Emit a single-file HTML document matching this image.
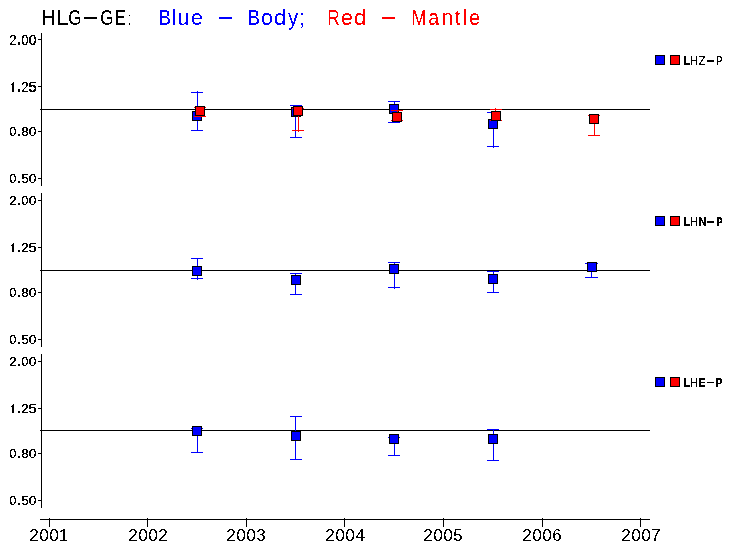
<!DOCTYPE html>
<html><head><meta charset="utf-8"><style>
html,body{margin:0;padding:0;background:#fff;}
svg{display:block;will-change:transform;}
</style></head><body>
<svg width="733" height="551" viewBox="0 0 733 551">
<rect width="733" height="551" fill="#fff"/>
<g shape-rendering="crispEdges">
<rect x="41" y="33" width="1" height="153" fill="#000"/>
<rect x="38" y="39" width="3" height="1" fill="#000"/>
<rect x="18" y="42" width="2" height="3" fill="#000"/>
<rect x="38" y="86" width="3" height="1" fill="#000"/>
<rect x="12" y="83" width="2" height="9" fill="#000"/>
<rect x="13" y="82" width="1" height="1" fill="#000"/>
<rect x="11" y="84" width="1" height="1" fill="#000"/>
<rect x="18" y="89" width="2" height="3" fill="#000"/>
<rect x="38" y="131" width="3" height="1" fill="#000"/>
<rect x="18" y="134" width="2" height="2" fill="#000"/>
<rect x="38" y="178" width="3" height="1" fill="#000"/>
<rect x="18" y="181" width="2" height="2" fill="#000"/>
<rect x="40" y="109" width="610" height="1" fill="#000"/>
<rect x="655" y="55" width="10" height="10" fill="#000"/>
<rect x="656" y="56" width="8" height="8" fill="#0000ff"/>
<rect x="670" y="55" width="10" height="10" fill="#000"/>
<rect x="671" y="56" width="8" height="8" fill="#ff0000"/>
<rect x="41" y="193" width="1" height="154" fill="#000"/>
<rect x="38" y="200" width="3" height="1" fill="#000"/>
<rect x="18" y="203" width="2" height="2" fill="#000"/>
<rect x="38" y="247" width="3" height="1" fill="#000"/>
<rect x="12" y="244" width="2" height="8" fill="#000"/>
<rect x="13" y="243" width="1" height="1" fill="#000"/>
<rect x="11" y="245" width="1" height="1" fill="#000"/>
<rect x="18" y="250" width="2" height="2" fill="#000"/>
<rect x="38" y="292" width="3" height="1" fill="#000"/>
<rect x="18" y="295" width="2" height="2" fill="#000"/>
<rect x="38" y="339" width="3" height="1" fill="#000"/>
<rect x="18" y="342" width="2" height="2" fill="#000"/>
<rect x="40" y="270" width="610" height="1" fill="#000"/>
<rect x="655" y="216" width="10" height="10" fill="#000"/>
<rect x="656" y="217" width="8" height="8" fill="#0000ff"/>
<rect x="670" y="216" width="10" height="10" fill="#000"/>
<rect x="671" y="217" width="8" height="8" fill="#ff0000"/>
<rect x="41" y="354" width="1" height="154" fill="#000"/>
<rect x="38" y="361" width="3" height="1" fill="#000"/>
<rect x="18" y="364" width="2" height="2" fill="#000"/>
<rect x="38" y="408" width="3" height="1" fill="#000"/>
<rect x="12" y="405" width="2" height="8" fill="#000"/>
<rect x="13" y="404" width="1" height="1" fill="#000"/>
<rect x="11" y="406" width="1" height="1" fill="#000"/>
<rect x="18" y="411" width="2" height="2" fill="#000"/>
<rect x="38" y="453" width="3" height="1" fill="#000"/>
<rect x="18" y="456" width="2" height="2" fill="#000"/>
<rect x="38" y="500" width="3" height="1" fill="#000"/>
<rect x="18" y="503" width="2" height="2" fill="#000"/>
<rect x="40" y="430" width="610" height="1" fill="#000"/>
<rect x="655" y="377" width="10" height="10" fill="#000"/>
<rect x="656" y="378" width="8" height="8" fill="#0000ff"/>
<rect x="670" y="377" width="10" height="10" fill="#000"/>
<rect x="671" y="378" width="8" height="8" fill="#ff0000"/>
<rect x="707" y="60" width="7" height="2" fill="#000"/>
<rect x="707" y="221" width="7" height="2" fill="#000"/>
<rect x="707" y="382" width="7" height="1" fill="#000"/>
<rect x="40" y="519" width="610" height="1" fill="#000"/>
<rect x="49" y="518" width="1" height="9" fill="#000"/>
<rect x="147" y="518" width="1" height="9" fill="#000"/>
<rect x="246" y="518" width="1" height="9" fill="#000"/>
<rect x="344" y="518" width="1" height="9" fill="#000"/>
<rect x="443" y="518" width="1" height="9" fill="#000"/>
<rect x="542" y="518" width="1" height="9" fill="#000"/>
<rect x="640" y="518" width="1" height="9" fill="#000"/>
<rect x="129" y="15" width="1" height="1" fill="#000"/>
<rect x="129" y="23" width="1" height="2" fill="#000"/>
<rect x="84" y="17" width="13" height="2" fill="#000"/>
<rect x="219" y="17" width="13" height="2" fill="#0000ff"/>
<rect x="382" y="17" width="13" height="2" fill="#ff0000"/>
<rect x="197" y="91" width="1" height="40" fill="#0000ff"/>
<rect x="191" y="92" width="12" height="1" fill="#0000ff"/>
<rect x="191" y="130" width="12" height="1" fill="#0000ff"/>
<rect x="192" y="111" width="10" height="10" fill="#000"/>
<rect x="193" y="112" width="8" height="8" fill="#0000ff"/>
<rect x="295" y="105" width="1" height="33" fill="#0000ff"/>
<rect x="290" y="105" width="12" height="1" fill="#0000ff"/>
<rect x="290" y="137" width="12" height="1" fill="#0000ff"/>
<rect x="291" y="107" width="10" height="10" fill="#000"/>
<rect x="292" y="108" width="8" height="8" fill="#0000ff"/>
<rect x="394" y="101" width="1" height="22" fill="#0000ff"/>
<rect x="388" y="101" width="12" height="1" fill="#0000ff"/>
<rect x="388" y="122" width="12" height="1" fill="#0000ff"/>
<rect x="389" y="104" width="10" height="10" fill="#000"/>
<rect x="390" y="105" width="8" height="8" fill="#0000ff"/>
<rect x="493" y="112" width="1" height="36" fill="#0000ff"/>
<rect x="487" y="112" width="12" height="1" fill="#0000ff"/>
<rect x="487" y="146" width="12" height="1" fill="#0000ff"/>
<rect x="488" y="119" width="10" height="10" fill="#000"/>
<rect x="489" y="120" width="8" height="8" fill="#0000ff"/>
<rect x="197" y="258" width="1" height="22" fill="#0000ff"/>
<rect x="191" y="258" width="12" height="1" fill="#0000ff"/>
<rect x="191" y="278" width="12" height="1" fill="#0000ff"/>
<rect x="192" y="266" width="10" height="10" fill="#000"/>
<rect x="193" y="267" width="8" height="8" fill="#0000ff"/>
<rect x="295" y="273" width="1" height="22" fill="#0000ff"/>
<rect x="290" y="273" width="12" height="1" fill="#0000ff"/>
<rect x="290" y="294" width="12" height="1" fill="#0000ff"/>
<rect x="291" y="275" width="10" height="10" fill="#000"/>
<rect x="292" y="276" width="8" height="8" fill="#0000ff"/>
<rect x="394" y="262" width="1" height="27" fill="#0000ff"/>
<rect x="388" y="262" width="12" height="1" fill="#0000ff"/>
<rect x="388" y="287" width="12" height="1" fill="#0000ff"/>
<rect x="389" y="264" width="10" height="10" fill="#000"/>
<rect x="390" y="265" width="8" height="8" fill="#0000ff"/>
<rect x="493" y="271" width="1" height="22" fill="#0000ff"/>
<rect x="487" y="271" width="12" height="1" fill="#0000ff"/>
<rect x="487" y="292" width="12" height="1" fill="#0000ff"/>
<rect x="488" y="274" width="10" height="10" fill="#000"/>
<rect x="489" y="275" width="8" height="8" fill="#0000ff"/>
<rect x="591" y="263" width="1" height="15" fill="#0000ff"/>
<rect x="585" y="263" width="13" height="1" fill="#0000ff"/>
<rect x="585" y="277" width="13" height="1" fill="#0000ff"/>
<rect x="587" y="262" width="10" height="10" fill="#000"/>
<rect x="588" y="263" width="8" height="8" fill="#0000ff"/>
<rect x="197" y="428" width="1" height="25" fill="#0000ff"/>
<rect x="191" y="428" width="12" height="1" fill="#0000ff"/>
<rect x="191" y="452" width="12" height="1" fill="#0000ff"/>
<rect x="192" y="426" width="10" height="10" fill="#000"/>
<rect x="193" y="427" width="8" height="8" fill="#0000ff"/>
<rect x="295" y="416" width="1" height="44" fill="#0000ff"/>
<rect x="290" y="416" width="12" height="1" fill="#0000ff"/>
<rect x="290" y="459" width="12" height="1" fill="#0000ff"/>
<rect x="291" y="431" width="10" height="10" fill="#000"/>
<rect x="292" y="432" width="8" height="8" fill="#0000ff"/>
<rect x="394" y="437" width="1" height="19" fill="#0000ff"/>
<rect x="388" y="437" width="12" height="1" fill="#0000ff"/>
<rect x="388" y="455" width="12" height="1" fill="#0000ff"/>
<rect x="389" y="434" width="10" height="10" fill="#000"/>
<rect x="390" y="435" width="8" height="8" fill="#0000ff"/>
<rect x="493" y="429" width="1" height="32" fill="#0000ff"/>
<rect x="487" y="429" width="12" height="1" fill="#0000ff"/>
<rect x="487" y="460" width="12" height="1" fill="#0000ff"/>
<rect x="488" y="434" width="10" height="10" fill="#000"/>
<rect x="489" y="435" width="8" height="8" fill="#0000ff"/>
<rect x="200" y="107" width="1" height="10" fill="#ff0000"/>
<rect x="194" y="107" width="12" height="1" fill="#ff0000"/>
<rect x="194" y="116" width="12" height="1" fill="#ff0000"/>
<rect x="195" y="106" width="10" height="10" fill="#000"/>
<rect x="196" y="107" width="8" height="8" fill="#ff0000"/>
<rect x="298" y="108" width="1" height="24" fill="#ff0000"/>
<rect x="292" y="108" width="12" height="1" fill="#ff0000"/>
<rect x="292" y="130" width="12" height="1" fill="#ff0000"/>
<rect x="293" y="106" width="10" height="10" fill="#000"/>
<rect x="294" y="107" width="8" height="8" fill="#ff0000"/>
<rect x="397" y="110" width="1" height="11" fill="#ff0000"/>
<rect x="391" y="110" width="12" height="1" fill="#ff0000"/>
<rect x="391" y="120" width="12" height="1" fill="#ff0000"/>
<rect x="392" y="112" width="10" height="10" fill="#000"/>
<rect x="393" y="113" width="8" height="8" fill="#ff0000"/>
<rect x="495" y="108" width="1" height="13" fill="#ff0000"/>
<rect x="490" y="109" width="12" height="1" fill="#ff0000"/>
<rect x="490" y="120" width="12" height="1" fill="#ff0000"/>
<rect x="491" y="111" width="10" height="10" fill="#000"/>
<rect x="492" y="112" width="8" height="8" fill="#ff0000"/>
<rect x="594" y="115" width="1" height="21" fill="#ff0000"/>
<rect x="588" y="115" width="12" height="1" fill="#ff0000"/>
<rect x="588" y="135" width="12" height="1" fill="#ff0000"/>
<rect x="589" y="114" width="10" height="10" fill="#000"/>
<rect x="590" y="115" width="8" height="8" fill="#ff0000"/>
</g>
<defs><filter id="c33" x="0" y="0" width="733" height="551" filterUnits="userSpaceOnUse" color-interpolation-filters="sRGB"><feComponentTransfer><feFuncA type="discrete" tableValues="0 1 1"/></feComponentTransfer></filter>
<filter id="c50" x="0" y="0" width="733" height="551" filterUnits="userSpaceOnUse" color-interpolation-filters="sRGB"><feComponentTransfer><feFuncA type="discrete" tableValues="0 0 1 1"/></feComponentTransfer></filter></defs>
<g filter="url(#c33)">
<text transform="translate(9.34,44.8) scale(1.013,1.058)" font-family="Liberation Sans" font-weight="normal" font-size="13.0" fill="#000">2</text>
<text transform="translate(21.51,44.8) scale(0.966,1.058)" font-family="Liberation Sans" font-weight="normal" font-size="13.0" fill="#000">0</text>
<text transform="translate(28.43,44.8) scale(1.126,1.058)" font-family="Liberation Sans" font-weight="normal" font-size="13.0" fill="#000">0</text>
<text transform="translate(21.34,91.8) scale(1.013,1.058)" font-family="Liberation Sans" font-weight="normal" font-size="13.0" fill="#000">2</text>
<text transform="translate(28.41,91.8) scale(1.136,1.058)" font-family="Liberation Sans" font-weight="normal" font-size="13.0" fill="#000">5</text>
<text transform="translate(9.51,135.8) scale(0.966,0.947)" font-family="Liberation Sans" font-weight="normal" font-size="13.0" fill="#000">0</text>
<text transform="translate(21.44,135.8) scale(0.984,0.947)" font-family="Liberation Sans" font-weight="normal" font-size="13.0" fill="#000">8</text>
<text transform="translate(28.43,135.8) scale(1.126,0.947)" font-family="Liberation Sans" font-weight="normal" font-size="13.0" fill="#000">0</text>
<text transform="translate(9.51,182.8) scale(0.966,0.947)" font-family="Liberation Sans" font-weight="normal" font-size="13.0" fill="#000">0</text>
<text transform="translate(21.49,182.8) scale(0.973,0.947)" font-family="Liberation Sans" font-weight="normal" font-size="13.0" fill="#000">5</text>
<text transform="translate(28.43,182.8) scale(1.126,0.947)" font-family="Liberation Sans" font-weight="normal" font-size="13.0" fill="#000">0</text>
<text transform="translate(9.34,204.8) scale(1.013,0.947)" font-family="Liberation Sans" font-weight="normal" font-size="13.0" fill="#000">2</text>
<text transform="translate(21.51,204.8) scale(0.966,0.947)" font-family="Liberation Sans" font-weight="normal" font-size="13.0" fill="#000">0</text>
<text transform="translate(28.43,204.8) scale(1.126,0.947)" font-family="Liberation Sans" font-weight="normal" font-size="13.0" fill="#000">0</text>
<text transform="translate(21.34,251.8) scale(1.013,0.947)" font-family="Liberation Sans" font-weight="normal" font-size="13.0" fill="#000">2</text>
<text transform="translate(28.41,251.8) scale(1.136,0.947)" font-family="Liberation Sans" font-weight="normal" font-size="13.0" fill="#000">5</text>
<text transform="translate(9.51,296.8) scale(0.966,0.947)" font-family="Liberation Sans" font-weight="normal" font-size="13.0" fill="#000">0</text>
<text transform="translate(21.44,296.8) scale(0.984,0.947)" font-family="Liberation Sans" font-weight="normal" font-size="13.0" fill="#000">8</text>
<text transform="translate(28.43,296.8) scale(1.126,0.947)" font-family="Liberation Sans" font-weight="normal" font-size="13.0" fill="#000">0</text>
<text transform="translate(9.51,343.8) scale(0.966,0.947)" font-family="Liberation Sans" font-weight="normal" font-size="13.0" fill="#000">0</text>
<text transform="translate(21.49,343.8) scale(0.973,0.947)" font-family="Liberation Sans" font-weight="normal" font-size="13.0" fill="#000">5</text>
<text transform="translate(28.43,343.8) scale(1.126,0.947)" font-family="Liberation Sans" font-weight="normal" font-size="13.0" fill="#000">0</text>
<text transform="translate(9.34,365.8) scale(1.013,0.947)" font-family="Liberation Sans" font-weight="normal" font-size="13.0" fill="#000">2</text>
<text transform="translate(21.51,365.8) scale(0.966,0.947)" font-family="Liberation Sans" font-weight="normal" font-size="13.0" fill="#000">0</text>
<text transform="translate(28.43,365.8) scale(1.126,0.947)" font-family="Liberation Sans" font-weight="normal" font-size="13.0" fill="#000">0</text>
<text transform="translate(21.34,412.8) scale(1.013,0.947)" font-family="Liberation Sans" font-weight="normal" font-size="13.0" fill="#000">2</text>
<text transform="translate(28.41,412.8) scale(1.136,0.947)" font-family="Liberation Sans" font-weight="normal" font-size="13.0" fill="#000">5</text>
<text transform="translate(9.51,457.8) scale(0.966,0.947)" font-family="Liberation Sans" font-weight="normal" font-size="13.0" fill="#000">0</text>
<text transform="translate(21.44,457.8) scale(0.984,0.947)" font-family="Liberation Sans" font-weight="normal" font-size="13.0" fill="#000">8</text>
<text transform="translate(28.43,457.8) scale(1.126,0.947)" font-family="Liberation Sans" font-weight="normal" font-size="13.0" fill="#000">0</text>
<text transform="translate(9.51,504.8) scale(0.966,0.947)" font-family="Liberation Sans" font-weight="normal" font-size="13.0" fill="#000">0</text>
<text transform="translate(21.49,504.8) scale(0.973,0.947)" font-family="Liberation Sans" font-weight="normal" font-size="13.0" fill="#000">5</text>
<text transform="translate(28.43,504.8) scale(1.126,0.947)" font-family="Liberation Sans" font-weight="normal" font-size="13.0" fill="#000">0</text>
<text transform="translate(683.22,65) scale(0.974,1.090)" font-family="Liberation Sans" font-weight="bold" font-size="12.0" fill="#000">L</text>
<text transform="translate(690.12,65) scale(0.895,1.090)" font-family="Liberation Sans" font-weight="normal" font-size="12.0" fill="#000">H</text>
<text transform="translate(698.65,65) scale(0.913,1.090)" font-family="Liberation Sans" font-weight="normal" font-size="12.0" fill="#000">Z</text>
<text transform="translate(716.23,65) scale(0.783,1.090)" font-family="Liberation Sans" font-weight="normal" font-size="12.0" fill="#000">P</text>
<text transform="translate(683.22,226) scale(0.974,1.090)" font-family="Liberation Sans" font-weight="bold" font-size="12.0" fill="#000">L</text>
<text transform="translate(690.12,226) scale(0.895,1.090)" font-family="Liberation Sans" font-weight="normal" font-size="12.0" fill="#000">H</text>
<text transform="translate(698.20,226) scale(0.992,1.090)" font-family="Liberation Sans" font-weight="bold" font-size="12.0" fill="#000">N</text>
<text transform="translate(716.41,226) scale(0.736,1.090)" font-family="Liberation Sans" font-weight="bold" font-size="12.0" fill="#000">P</text>
<text transform="translate(683.22,387) scale(0.974,1.090)" font-family="Liberation Sans" font-weight="bold" font-size="12.0" fill="#000">L</text>
<text transform="translate(690.12,387) scale(0.895,1.090)" font-family="Liberation Sans" font-weight="normal" font-size="12.0" fill="#000">H</text>
<text transform="translate(698.28,387) scale(0.891,1.090)" font-family="Liberation Sans" font-weight="bold" font-size="12.0" fill="#000">E</text>
<text transform="translate(715.29,387) scale(0.884,1.090)" font-family="Liberation Sans" font-weight="bold" font-size="12.0" fill="#000">P</text>
</g>
<g filter="url(#c50)">
<text x="29.13" y="541" font-family="Liberation Sans" font-size="17.2">2</text>
<text x="39.33" y="541" font-family="Liberation Sans" font-size="17.2">0</text>
<text x="49.33" y="541" font-family="Liberation Sans" font-size="17.2">0</text>
<text x="58.69" y="541" font-family="Liberation Sans" font-size="17.2">1</text>
<text x="128.13" y="541" font-family="Liberation Sans" font-size="17.2">2</text>
<text x="138.33" y="541" font-family="Liberation Sans" font-size="17.2">0</text>
<text x="148.33" y="541" font-family="Liberation Sans" font-size="17.2">0</text>
<text x="158.13" y="541" font-family="Liberation Sans" font-size="17.2">2</text>
<text x="226.13" y="541" font-family="Liberation Sans" font-size="17.2">2</text>
<text x="236.33" y="541" font-family="Liberation Sans" font-size="17.2">0</text>
<text x="246.33" y="541" font-family="Liberation Sans" font-size="17.2">0</text>
<text x="256.34" y="541" font-family="Liberation Sans" font-size="17.2">3</text>
<text x="325.13" y="541" font-family="Liberation Sans" font-size="17.2">2</text>
<text x="335.33" y="541" font-family="Liberation Sans" font-size="17.2">0</text>
<text x="345.33" y="541" font-family="Liberation Sans" font-size="17.2">0</text>
<text x="355.61" y="541" font-family="Liberation Sans" font-size="17.2">4</text>
<text x="423.13" y="541" font-family="Liberation Sans" font-size="17.2">2</text>
<text x="433.33" y="541" font-family="Liberation Sans" font-size="17.2">0</text>
<text x="443.33" y="541" font-family="Liberation Sans" font-size="17.2">0</text>
<text x="453.31" y="541" font-family="Liberation Sans" font-size="17.2">5</text>
<text x="522.13" y="541" font-family="Liberation Sans" font-size="17.2">2</text>
<text x="532.33" y="541" font-family="Liberation Sans" font-size="17.2">0</text>
<text x="542.33" y="541" font-family="Liberation Sans" font-size="17.2">0</text>
<text x="552.13" y="541" font-family="Liberation Sans" font-size="17.2">6</text>
<text x="621.13" y="541" font-family="Liberation Sans" font-size="17.2">2</text>
<text x="631.33" y="541" font-family="Liberation Sans" font-size="17.2">0</text>
<text x="641.33" y="541" font-family="Liberation Sans" font-size="17.2">0</text>
<text x="651.12" y="541" font-family="Liberation Sans" font-size="17.2">7</text>
<text transform="translate(41.38,25) scale(1.036,1.148)" font-family="Liberation Sans" font-weight="normal" font-size="19" fill="#000">H</text>
<text transform="translate(56.14,25) scale(1.194,1.148)" font-family="Liberation Sans" font-weight="normal" font-size="19" fill="#000">L</text>
<text transform="translate(68.15,25) scale(0.887,1.148)" font-family="Liberation Sans" font-weight="normal" font-size="19" fill="#000">G</text>
<text transform="translate(100.15,25) scale(0.887,1.148)" font-family="Liberation Sans" font-weight="normal" font-size="19" fill="#000">G</text>
<text transform="translate(114.64,25) scale(0.874,1.148)" font-family="Liberation Sans" font-weight="normal" font-size="19" fill="#000">E</text>
<text transform="translate(158.46,25) scale(0.989,1.148)" font-family="Liberation Sans" font-weight="normal" font-size="19" fill="#0000ff">B</text>
<text transform="translate(171.88,25) scale(1.000,1.148)" font-family="Liberation Sans" font-weight="normal" font-size="19" fill="#0000ff">l</text>
<text transform="translate(177.62,25) scale(1.115,1.148)" font-family="Liberation Sans" font-weight="normal" font-size="19" fill="#0000ff">u</text>
<text transform="translate(191.09,25) scale(1.122,1.148)" font-family="Liberation Sans" font-weight="normal" font-size="19" fill="#0000ff">e</text>
<text transform="translate(247.46,25) scale(0.989,1.148)" font-family="Liberation Sans" font-weight="normal" font-size="19" fill="#0000ff">B</text>
<text transform="translate(261.11,25) scale(1.115,1.148)" font-family="Liberation Sans" font-weight="normal" font-size="19" fill="#0000ff">o</text>
<text transform="translate(274.07,25) scale(1.170,1.148)" font-family="Liberation Sans" font-weight="normal" font-size="19" fill="#0000ff">d</text>
<text transform="translate(287.95,25) scale(1.062,1.148)" font-family="Liberation Sans" font-weight="normal" font-size="19" fill="#0000ff">y</text>
<text transform="translate(299.36,25) scale(1.000,1.148)" font-family="Liberation Sans" font-weight="normal" font-size="19" fill="#0000ff">;</text>
<text transform="translate(327.62,25) scale(0.886,1.148)" font-family="Liberation Sans" font-weight="normal" font-size="19" fill="#ff0000">R</text>
<text transform="translate(341.09,25) scale(1.122,1.148)" font-family="Liberation Sans" font-weight="normal" font-size="19" fill="#ff0000">e</text>
<text transform="translate(354.07,25) scale(1.170,1.148)" font-family="Liberation Sans" font-weight="normal" font-size="19" fill="#ff0000">d</text>
<text transform="translate(411.53,25) scale(0.944,1.148)" font-family="Liberation Sans" font-weight="normal" font-size="19" fill="#ff0000">M</text>
<text transform="translate(428.17,25) scale(1.025,1.148)" font-family="Liberation Sans" font-weight="normal" font-size="19" fill="#ff0000">a</text>
<text transform="translate(441.59,25) scale(1.115,1.148)" font-family="Liberation Sans" font-weight="normal" font-size="19" fill="#ff0000">n</text>
<text transform="translate(454.70,25) scale(1.030,1.148)" font-family="Liberation Sans" font-weight="normal" font-size="19" fill="#ff0000">t</text>
<text transform="translate(462.88,25) scale(1.000,1.148)" font-family="Liberation Sans" font-weight="normal" font-size="19" fill="#ff0000">l</text>
<text transform="translate(469.19,25) scale(1.009,1.148)" font-family="Liberation Sans" font-weight="normal" font-size="19" fill="#ff0000">e</text>
</g>
</svg>
</body></html>
